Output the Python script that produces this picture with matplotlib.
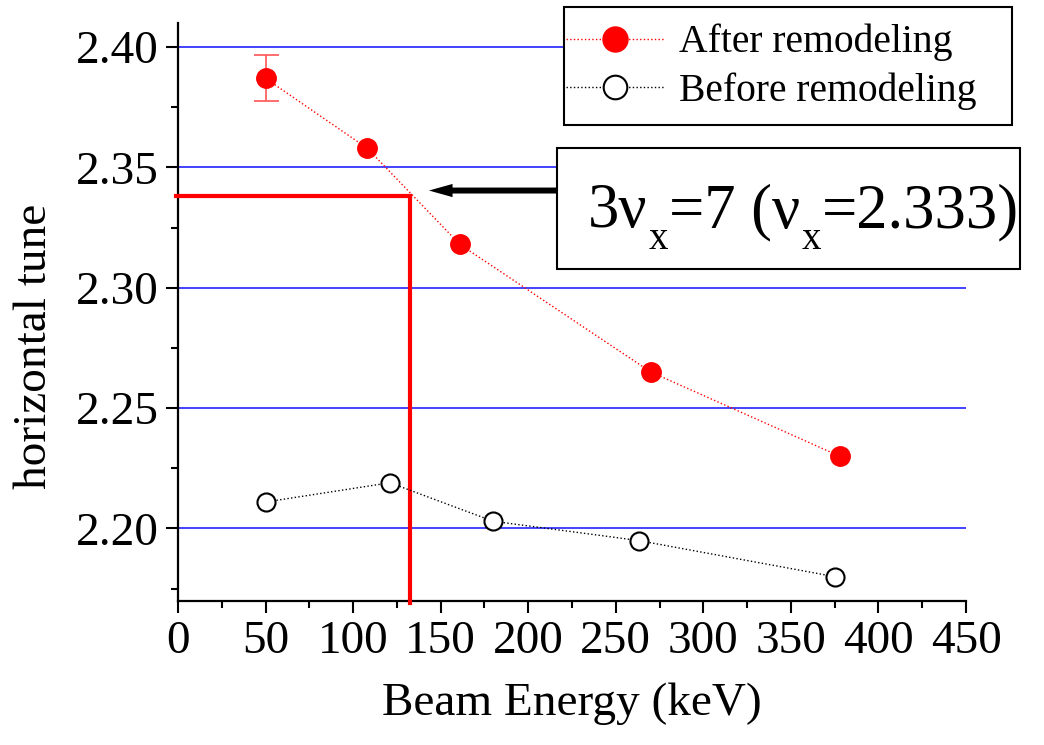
import numpy as np
import matplotlib
matplotlib.use("Agg")
import matplotlib.pyplot as plt
from matplotlib.patches import Rectangle
from matplotlib.lines import Line2D
from matplotlib.ticker import MultipleLocator, FormatStrFormatter

plt.rcParams['font.family'] = ['Liberation Serif', 'DejaVu Serif']

# tune vs. beam energy
energy_after = [50, 108, 161, 270, 378]
tune_after = [2.387, 2.358, 2.318, 2.265, 2.230]
err_after = [0.0095, 0, 0, 0, 0]

energy_before = [50, 121, 180, 263, 375]
tune_before = [2.211, 2.219, 2.203, 2.195, 2.180]

# resonance line 3*nu_x = 7 crossing
res_energy = 132.5
res_tune = 2.338
arrow_from = 216.4
arrow_to = 143.3
arrow_tune = 2.3404

W, H = 1044, 745
fig = plt.figure(figsize=(W / 100, H / 100), dpi=100)
ax = fig.add_axes([178 / W, 1 - 600.7 / H, 788 / W, 577.7 / H])

ax.set_xlim(0, 450)
ax.set_ylim(2.170, 2.410)

# blue grid lines
for yv in [2.20, 2.25, 2.30, 2.35, 2.40]:
    ax.axhline(yv, color='#2222ff', lw=1.2, zorder=1)

ax.errorbar(energy_after[:1], tune_after[:1], yerr=err_after[:1], fmt='none',
            ecolor='#ff5555', elinewidth=1.2, capsize=9, capthick=1.2, zorder=3)
ax.plot(energy_after, tune_after, 'o:', color='red', ms=14, lw=1, zorder=4)
ax.plot(energy_before, tune_before, 'o:', color='black', mfc='white', mec='black',
        mew=1.5, ms=13, lw=1, zorder=4)

# red resonance marker lines
ax.plot([-1, res_energy], [res_tune, res_tune], color='red', lw=3, clip_on=False, zorder=3)
ax.plot([res_energy, res_energy], [res_tune, 2.169], color='red', lw=3, clip_on=False, zorder=3)

ax.annotate('', xy=(arrow_to, arrow_tune), xytext=(arrow_from, arrow_tune),
            arrowprops=dict(arrowstyle='simple,head_length=1.7,head_width=0.95,tail_width=0.43',
                            color='black', lw=0, mutation_scale=10, shrinkA=0, shrinkB=0),
            annotation_clip=False, zorder=5)

ax.spines['top'].set_visible(False)
ax.spines['right'].set_visible(False)
ax.spines['left'].set_linewidth(1.6)
ax.spines['bottom'].set_linewidth(1.6)

ax.xaxis.set_major_locator(MultipleLocator(50))
ax.xaxis.set_minor_locator(MultipleLocator(25))
ax.yaxis.set_major_locator(MultipleLocator(0.05))
ax.yaxis.set_minor_locator(MultipleLocator(0.025))
ax.yaxis.set_major_formatter(FormatStrFormatter('%.2f'))
ax.tick_params(which='major', length=8.6, width=1.5, labelsize=34, direction='out')
ax.tick_params(which='minor', length=5, width=1.5, direction='out')
ax.tick_params(axis='x', pad=6)
ax.tick_params(axis='y', pad=5)

ax.set_xlabel('Beam Energy (keV)', fontsize=34, labelpad=14)
ax.set_ylabel('horizontal tune', fontsize=34)
ax.yaxis.set_label_coords(-122 / 788, 0.441)

# legend with its own frame
fig.add_artist(Rectangle((564 / W, 1 - 125 / H), 448 / W, 118 / H, transform=fig.transFigure,
                         facecolor='white', edgecolor='black', lw=1.5, zorder=10))
handles = [Line2D([], [], color='red', ls=':', lw=1, marker='o', ms=18),
           Line2D([], [], color='black', ls=':', lw=1, marker='o', mfc='white', mec='black',
                  mew=1.5, ms=17)]
leg = fig.legend(handles, ['After remodeling', 'Before remodeling'], loc='center left',
                 bbox_to_anchor=(566 / W, 1 - 67 / H), fontsize=28.5, frameon=False,
                 borderaxespad=0, borderpad=0, handlelength=2.5, labelspacing=0.28,
                 handletextpad=0.35)
leg.set_zorder(11)

# annotation box: 3 nu_x = 7 (nu_x = 2.333)
fig.add_artist(Rectangle((557 / W, 1 - 269 / H), 463 / W, 121 / H,
                         transform=fig.transFigure, facecolor='white', edgecolor='black',
                         lw=1.5, zorder=10))
renderer = fig.canvas.get_renderer()
pieces = [('3\u03bd', 45, 0, 0), ('x', 28, 22, 1), ('=7 (\u03bd', 45, 0, 1),
          ('x', 28, 22, 1), ('=2.333)', 45, 0, 1)]
xpos = 588
for s, size, drop, gap in pieces:
    t = fig.text((xpos + gap) / W, 1 - (227.3 + drop) / H, s, fontsize=size,
                 ha='left', va='baseline', zorder=11)
    xpos = t.get_window_extent(renderer).x1

fig.savefig('out.png', dpi=100)
